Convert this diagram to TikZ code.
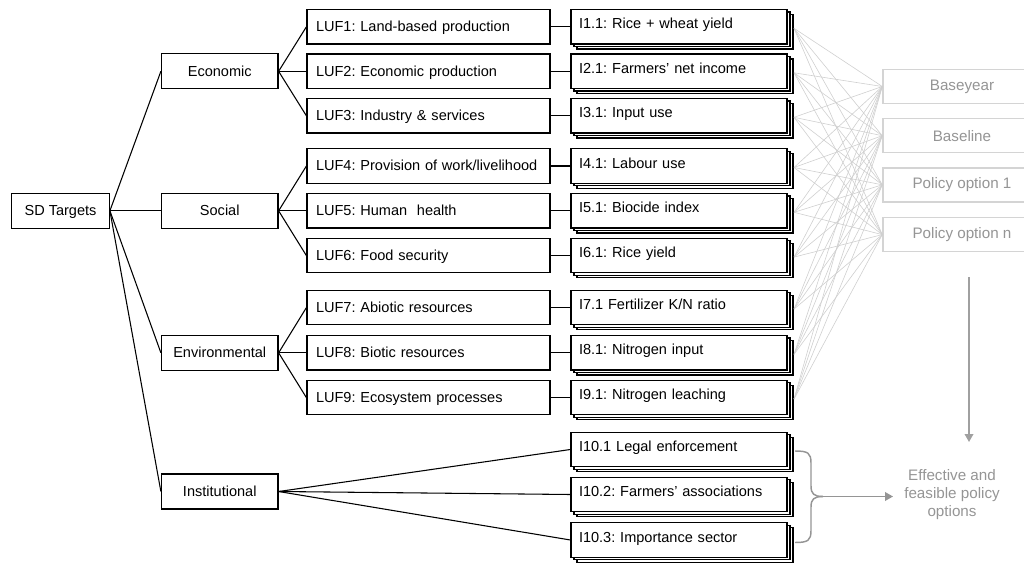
\documentclass[tikz,border=0pt]{standalone}
\usepackage{fontspec}
\setmainfont{Liberation Sans}
\usetikzlibrary{arrows.meta}
\definecolor{fanline}{HTML}{CFCFCF}
\definecolor{ghostbox}{HTML}{D4D4D4}
\definecolor{ghosttext}{HTML}{959595}
\definecolor{arrowgray}{HTML}{A0A0A0}
\definecolor{bracegray}{HTML}{959595}
\begin{document}
\frenchspacing
\begin{tikzpicture}[x=0.75pt,y=-0.75pt,
  font=\fontsize{10.9pt}{13.1pt}\selectfont\frenchspacing,
  boxbase/.style={draw=black, line width=0.9pt, fill=white, inner ysep=0pt,
    text height=0.72em, text depth=0em},
  sdbox/.style={boxbase, minimum width=73.2pt, minimum height=26.25pt, inner xsep=0pt},
  catbox/.style={boxbase, minimum width=87.4pt, minimum height=26.25pt, inner xsep=0pt},
  lufbox/.style={boxbase, minimum height=25.9pt, inner xsep=6.75pt, text width=168.75pt, align=left},
  ishadow/.style={boxbase, minimum height=25.9pt, minimum width=162pt, inner xsep=0pt},
  ibox/.style={boxbase, minimum height=25.9pt, inner xsep=6pt, text width=150pt, align=left,
    text depth=0.4em},
  rbox/.style={draw=ghostbox, line width=1.1pt, fill=white, text=ghosttext,
    font=\fontsize{11.4pt}{13.5pt}\selectfont,
    minimum width=118.5pt, minimum height=25.5pt, inner sep=0pt},
  conn/.style={draw=black, line width=0.8pt},
  fan/.style={draw=fanline, line width=0.45pt},
  grayarrow/.style={draw=arrowgray, line width=1.1pt, -{Triangle[width=6.5pt,length=6pt]}},
  bracestyle/.style={draw=bracegray, line width=1.1pt}
]
\useasboundingbox (0,0) rectangle (1024,563);
\clip (0,0) rectangle (1024,563);

% root and categories
\node[sdbox] (sd) at (60.5,210.8) {SD Targets};
\node[catbox] (eco) at (219.75,71.3) {Economic};
\node[catbox] (soc) at (219.75,210.8) {Social};
\node[catbox] (env) at (219.75,352.8) {Environmental};
\node[catbox] (ins) at (219.75,491.5) {Institutional};

\foreach \c in {eco,soc,env,ins} \draw[conn] (sd.east) -- (\c.west);

% LUF boxes
\foreach \n/\y/\t in {
  1/26.8/{LUF1: Land-based production},
  2/71.3/{LUF2: Economic production},
  3/115.8/{LUF3: Industry \& services},
  4/166/{LUF4: Provision of work/livelihood},
  5/210.8/{LUF5: Human\ \ health},
  6/255.6/{LUF6: Food security},
  7/307.6/{LUF7: Abiotic resources},
  8/352.8/{LUF8: Biotic resources},
  9/397.6/{LUF9: Ecosystem processes}}
{
  \node[lufbox] (luf\n) at (428.5,\y) {\t};
}
\foreach \c/\a/\b/\d in {eco/1/2/3, soc/4/5/6, env/7/8/9}
{
  \draw[conn] (\c.east) -- (luf\a.west);
  \draw[conn] (\c.east) -- (luf\b.west);
  \draw[conn] (\c.east) -- (luf\d.west);
}

% indicator stacks
\foreach \n/\y/\t in {
  1/26.8/{I1.1: Rice + wheat yield},
  2/71.3/{I2.1: Farmers’ net income},
  3/115.8/{I3.1: Input use},
  4/166/{I4.1: Labour use},
  5/210.8/{I5.1: Biocide index},
  6/255.6/{I6.1: Rice yield},
  7/307.6/{I7.1 Fertilizer K/N ratio},
  8/352.8/{I8.1: Nitrogen input},
  9/397.6/{I9.1: Nitrogen leaching},
  10/449.5/{I10.1 Legal enforcement},
  11/494.5/{I10.2: Farmers’ associations},
  12/540/{I10.3: Importance sector}}
{
  \node[ishadow] (i\n b) at (685,\y+5) {};
  \node[ishadow] (i\n a) at (682,\y+2.5) {};
  \node[ibox] (i\n) at (679,\y) {\t};
  \coordinate (io\n) at (794,\y+1.5);
}
\foreach \n in {1,...,9} \draw[conn] (luf\n.east) -- (i\n.west);
\foreach \n in {10,11,12} \draw[conn] (ins.east) -- (i\n.west);

% scenario boxes
\node[rbox] (r1) at (962,86.5) {Baseyear};
\node[rbox] (r2) at (962,135.7) {Baseline};
\node[rbox] (r3) at (962,184.8) {Policy option 1};
\node[rbox] (r4) at (962,234.6) {Policy option n};

\foreach \n in {1,...,9}
  \foreach \r in {1,...,4}
    \draw[fan] (io\n) -- (r\r.west);

% result
\node[text=ghosttext, align=center, inner sep=0pt,
  font=\fontsize{11.4pt}{13.2pt}\selectfont] (eff) at (952,494.5)
  {Effective and\\feasible policy\\options};
\coordinate (vtop) at (969,277);
\coordinate (vend) at (969,442);
\draw[grayarrow] (vtop) -- (vend);

% brace
\coordinate (bt) at (795,451);
\coordinate (bb) at (795,542.5);
\coordinate (btip) at (823,496.5);
\coordinate (aend) at (893,496.5);
\draw[bracestyle] (bt) .. controls (808,451) and (811,453) .. (811,463) -- (811,486)
  .. controls (811,494) and (814,496.5) .. (btip);
\draw[bracestyle] (bb) .. controls (808,542.5) and (811,540.5) .. (811,530.5) -- (811,507)
  .. controls (811,499) and (814,496.5) .. (btip);
\draw[grayarrow, draw=bracegray] (btip) -- (aend);
\end{tikzpicture}
\end{document}
